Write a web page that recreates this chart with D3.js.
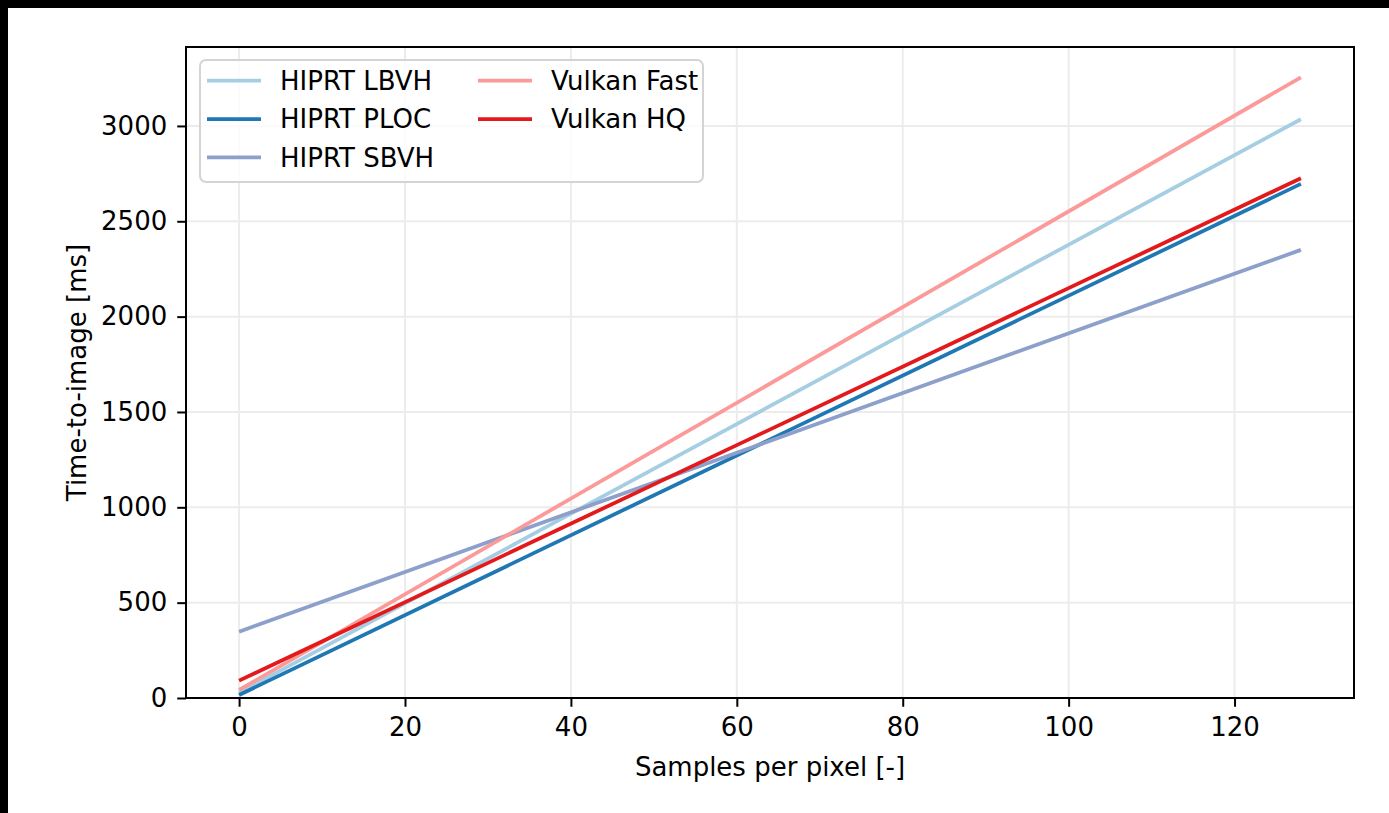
<!DOCTYPE html>
<meta charset="utf-8">
<html>
<head>
<style>
    body { margin: 0; background: #fff; }
    svg { display: block; font-family: "DejaVu Sans", sans-serif; }
    .domain { display: none; }
</style>
<script src="https://d3js.org/d3.v7.min.js"></script>
</head>
<body>
<svg width="1389" height="813"></svg>
<script>

// samples per pixel, start and end of every run
var spp = [0, 128];

var series = ["HIPRT LBVH", "HIPRT PLOC", "HIPRT SBVH", "Vulkan Fast", "Vulkan HQ"];
var lbvh   = [27, 3035];
var ploc   = [16, 2696];
var sbvh   = [348, 2350];
var vkFast = [42, 3255];
var vkHQ   = [91, 2726];

var xTicks = [0, 20, 40, 60, 80, 100, 120];
var yTicks = [0, 500, 1000, 1500, 2000, 2500, 3000];

var colors = ["#a6cee3", "#1f78b4", "#8da0cb", "#fb9a99", "#e31a1c"];
var values = [lbvh, ploc, sbvh, vkFast, vkHQ];

var svg = d3.select("svg"),
    margin = {top: 47, right: 35, bottom: 115, left: 186},
    width = +svg.attr("width"),
    height = +svg.attr("height");

// black strips on top and left edge of the screenshot
svg.append("rect").attr("x", 0).attr("y", 0).attr("width", width).attr("height", 8).attr("fill", "#000");
svg.append("rect").attr("x", 0).attr("y", 0).attr("width", 8).attr("height", height).attr("fill", "#000");

var x = d3.scaleLinear()
    .domain([-6.4, 134.4])
    .range([margin.left, width - margin.right]);

var y = d3.scaleLinear()
    .domain([0, 3414])
    .range([height - margin.bottom, margin.top]);

var fs = 26;

// grid
svg.append("g")
    .selectAll("line")
    .data(xTicks)
    .enter().append("line")
    .attr("x1", function(d) { return x(d); })
    .attr("x2", function(d) { return x(d); })
    .attr("y1", y.range()[1])
    .attr("y2", y.range()[0])
    .attr("stroke", "#ececec")
    .attr("stroke-width", 2);

svg.append("g")
    .selectAll("line")
    .data(yTicks)
    .enter().append("line")
    .attr("x1", x.range()[0])
    .attr("x2", x.range()[1])
    .attr("y1", function(d) { return y(d); })
    .attr("y2", function(d) { return y(d); })
    .attr("stroke", "#ececec")
    .attr("stroke-width", 2);

// lines
var line = d3.line()
    .x(function(d, i) { return x(spp[i]); })
    .y(function(d) { return y(d); });

svg.append("g")
    .attr("fill", "none")
    .attr("stroke-width", 3.75)
    .selectAll("path")
    .data(values)
    .enter().append("path")
    .attr("stroke", function(d, i) { return colors[i]; })
    .attr("d", line);

// frame
svg.append("rect")
    .attr("x", x.range()[0])
    .attr("y", y.range()[1])
    .attr("width", x.range()[1] - x.range()[0])
    .attr("height", y.range()[0] - y.range()[1])
    .attr("fill", "none")
    .attr("stroke", "#000")
    .attr("stroke-width", 2);

// axes
var gx = svg.append("g")
    .attr("transform", "translate(0," + (height - margin.bottom) + ")")
    .call(d3.axisBottom(x).tickValues(xTicks).tickSize(8.75).tickPadding(11).tickFormat(d3.format("d")));

var gy = svg.append("g")
    .attr("transform", "translate(" + margin.left + ",0)")
    .call(d3.axisLeft(y).tickValues(yTicks).tickSize(8.75).tickPadding(10).tickFormat(d3.format("d")));

[gx, gy].forEach(function(g) {
    g.selectAll(".tick line").attr("stroke", "#000").attr("stroke-width", 2);
    g.selectAll(".tick text")
        .attr("fill", "#000")
        .style("font-family", "DejaVu Sans")
        .style("font-size", fs + "px");
});

svg.append("text")
    .attr("x", (x.range()[0] + x.range()[1]) / 2)
    .attr("y", 776)
    .attr("text-anchor", "middle")
    .style("font-size", fs + "px")
    .text("Samples per pixel [-]");

svg.append("text")
    .attr("transform", "translate(86," + ((y.range()[0] + y.range()[1]) / 2) + ") rotate(-90)")
    .attr("text-anchor", "middle")
    .style("font-size", fs + "px")
    .text("Time-to-image [ms]");

// legend
var legend = svg.append("g");

legend.append("rect")
    .attr("x", 200)
    .attr("y", 60)
    .attr("width", 503)
    .attr("height", 122)
    .attr("rx", 6)
    .attr("fill", "#fff")
    .attr("fill-opacity", 0.8)
    .attr("stroke", "#d4d4d4")
    .attr("stroke-width", 2);

var items = legend.selectAll(".item")
    .data(series)
    .enter().append("g")
    .attr("transform", function(d, i) {
        var col = i < 3 ? 0 : 1, row = i < 3 ? i : i - 3;
        return "translate(" + (col ? 478 : 207) + "," + (80.7 + row * 38.3) + ")";
    });

items.append("line")
    .attr("x1", 0)
    .attr("x2", 54)
    .attr("stroke", function(d, i) { return colors[i]; })
    .attr("stroke-width", 3.75);

items.append("text")
    .attr("x", 73)
    .attr("dy", "0.36em")
    .style("font-size", fs + "px")
    .text(function(d) { return d; });

</script>
</body>
</html>
